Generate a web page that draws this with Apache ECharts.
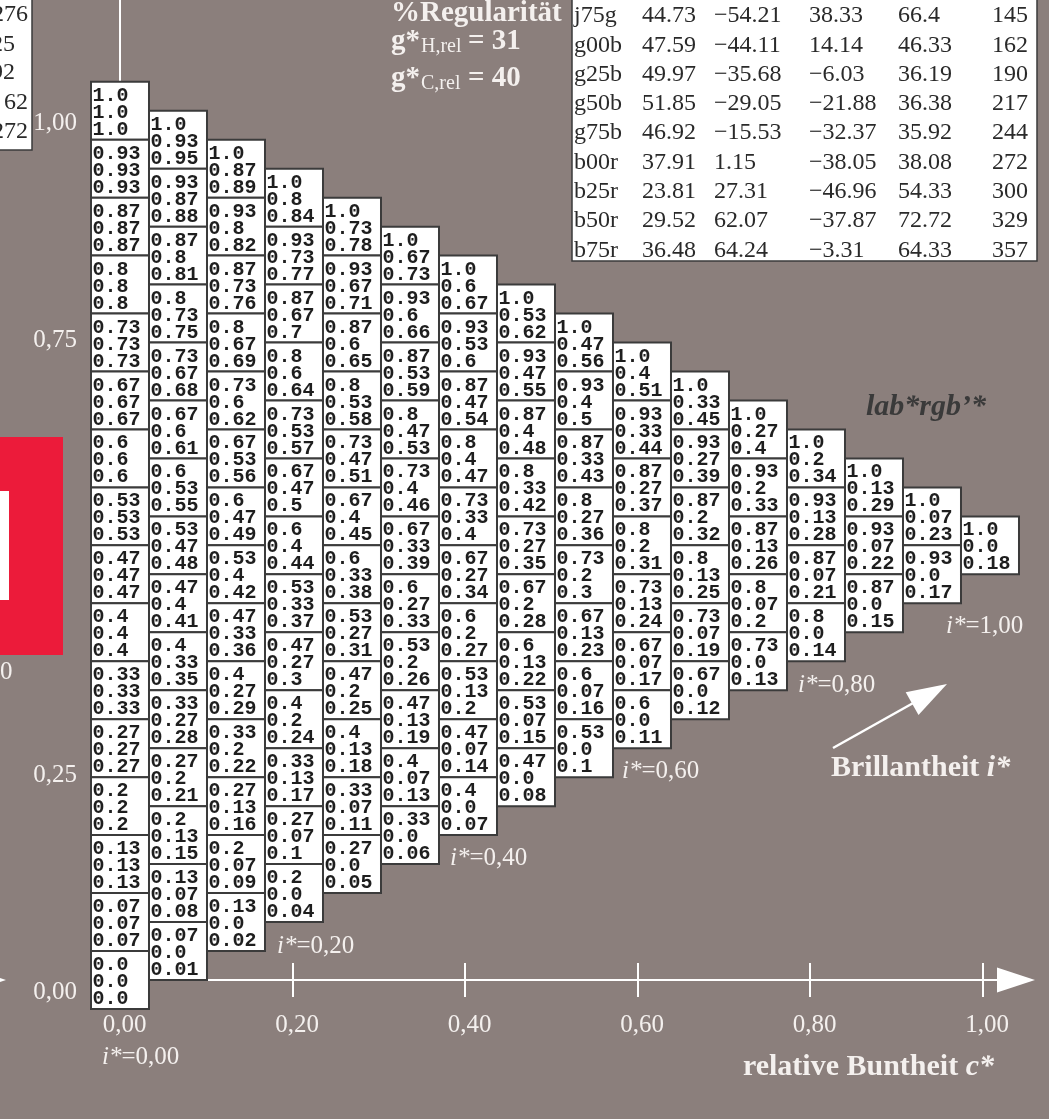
<!DOCTYPE html>
<html>
<head>
<meta charset="utf-8">
<script src="https://cdn.jsdelivr.net/npm/echarts@6/dist/echarts.min.js"></script>
<style>
  html, body { margin: 0; padding: 0; background: #8b7f7c; }
  #chart { width: 1049px; height: 1119px; }
</style>
</head>
<body>
<div id="chart"></div>
<script>
// level labels, in steps of 1/15 from 0 to 1
const steps = ["0.0", "0.07", "0.13", "0.2", "0.27", "0.33", "0.4", "0.47",
  "0.53", "0.6", "0.67", "0.73", "0.8", "0.87", "0.93", "1.0"];

// third line of each cell, per column (c* = k/15), top to bottom
const col00 = ["1.0", "0.93", "0.87", "0.8", "0.73", "0.67", "0.6", "0.53", "0.47", "0.4", "0.33", "0.27", "0.2", "0.13", "0.07", "0.0"];
const col01 = ["0.95", "0.88", "0.81", "0.75", "0.68", "0.61", "0.55", "0.48", "0.41", "0.35", "0.28", "0.21", "0.15", "0.08", "0.01"];
const col02 = ["0.89", "0.82", "0.76", "0.69", "0.62", "0.56", "0.49", "0.42", "0.36", "0.29", "0.22", "0.16", "0.09", "0.02"];
const col03 = ["0.84", "0.77", "0.7", "0.64", "0.57", "0.5", "0.44", "0.37", "0.3", "0.24", "0.17", "0.1", "0.04"];
const col04 = ["0.78", "0.71", "0.65", "0.58", "0.51", "0.45", "0.38", "0.31", "0.25", "0.18", "0.11", "0.05"];
const col05 = ["0.73", "0.66", "0.59", "0.53", "0.46", "0.39", "0.33", "0.26", "0.19", "0.13", "0.06"];
const col06 = ["0.67", "0.6", "0.54", "0.47", "0.4", "0.34", "0.27", "0.2", "0.14", "0.07"];
const col07 = ["0.62", "0.55", "0.48", "0.42", "0.35", "0.28", "0.22", "0.15", "0.08"];
const col08 = ["0.56", "0.5", "0.43", "0.36", "0.3", "0.23", "0.16", "0.1"];
const col09 = ["0.51", "0.44", "0.37", "0.31", "0.24", "0.17", "0.11"];
const col10 = ["0.45", "0.39", "0.32", "0.25", "0.19", "0.12"];
const col11 = ["0.4", "0.33", "0.26", "0.2", "0.13"];
const col12 = ["0.34", "0.28", "0.21", "0.14"];
const col13 = ["0.29", "0.22", "0.15"];
const col14 = ["0.23", "0.17"];
const col15 = ["0.18"];

// colour table (top right)
const tabName = ["j75g", "g00b", "g25b", "g50b", "g75b", "b00r", "b25r", "b50r", "b75r"];
const tabL = ["44.73", "47.59", "49.97", "51.85", "46.92", "37.91", "23.81", "29.52", "36.48"];
const tabA = ["\u221254.21", "\u221244.11", "\u221235.68", "\u221229.05", "\u221215.53", "1.15", "27.31", "62.07", "64.24"];
const tabB = ["38.33", "14.14", "\u22126.03", "\u221221.88", "\u221232.37", "\u221238.05", "\u221246.96", "\u221237.87", "\u22123.31"];
const tabC = ["66.4", "46.33", "36.19", "36.38", "35.92", "38.08", "54.33", "72.72", "64.33"];
const tabH = ["145", "162", "190", "217", "244", "272", "300", "329", "357"];

const xTicks = [0, 0.2, 0.4, 0.6, 0.8, 1.0];
const yTicks = [0, 0.25, 0.75, 1.0];

const columns = [col00, col01, col02, col03, col04, col05, col06, col07,
  col08, col09, col10, col11, col12, col13, col14, col15];

// each cell: [c*, centre level, line1, line2, line3]
const cells = [];
columns.forEach(function (col, k) {
  col.forEach(function (third, m) {
    const hi = 15 - m;
    const lo = 15 - m - k;
    cells.push([k / 15, (hi + lo) / 30, steps[hi], steps[lo], third]);
  });
});

const white = "#f4f0ee";
const serif = '"Liberation Serif", "Times New Roman", serif';
const fmt = function (v) { return v.toFixed(2).replace(".", ","); };

function txt(text, x, y, opt) {
  return {
    type: "text", z: 50,
    style: Object.assign({
      text: text, x: x, y: y, fill: white, fontFamily: serif, fontSize: 25,
      align: "left", verticalAlign: "middle"
    }, opt || {})
  };
}

const graphics = [];
// left fragment of neighbouring figure
graphics.push({ type: "rect", z: 40, shape: { x: -5, y: -5, width: 37, height: 155 },
  style: { fill: "#fff", stroke: "#3b3b3b", lineWidth: 1.5 } });
[["276", 28, 15], ["125", 15, 45], ["192", 15, 73], ["62", 28, 103], ["272", 28, 132]].forEach(function (r) {
  graphics.push(txt(r[0], r[1], r[2], { align: "right", fill: "#2a2a2a", fontSize: 24 }));
});
graphics.push({ type: "rect", z: 40, shape: { x: -2, y: 437, width: 65, height: 218 }, style: { fill: "#ec1b3a" } });
graphics.push({ type: "rect", z: 41, shape: { x: -2, y: 491, width: 11, height: 109 }, style: { fill: "#fff" } });
graphics.push(txt("0", 0, 672));
graphics.push({ type: "polygon", z: 40, shape: { points: [[-32, 967.5], [6, 980], [-32, 992.5]] }, style: { fill: "#fff" } });

// colour table
graphics.push({ type: "rect", z: 40, shape: { x: 572, y: -5, width: 465, height: 266 },
  style: { fill: "#fff", stroke: "#3b3b3b", lineWidth: 1.5 } });
tabName.forEach(function (n, i) {
  const y = 16 + i * 29.3;
  const o = { fill: "#2a2a2a", fontSize: 24 };
  graphics.push(txt(n, 574, y, o));
  graphics.push(txt(tabL[i], 642, y, o));
  graphics.push(txt(tabA[i], 714, y, o));
  graphics.push(txt(tabB[i], 809, y, o));
  graphics.push(txt(tabC[i], 898, y, o));
  graphics.push(txt(tabH[i], 1028, y, Object.assign({ align: "right" }, o)));
});

// headings
graphics.push(txt("%Regularit\u00e4t", 391, 14, { fontWeight: "bold", fontSize: 29 }));
graphics.push(txt("g*", 391, 42, { fontWeight: "bold", fontSize: 29 }));
graphics.push(txt("H,rel", 421, 47, { fontSize: 20 }));
graphics.push(txt("= 31", 468, 42, { fontWeight: "bold", fontSize: 29 }));
graphics.push(txt("g*", 391, 79, { fontWeight: "bold", fontSize: 29 }));
graphics.push(txt("C,rel", 421, 84, { fontSize: 20 }));
graphics.push(txt("= 40", 468, 79, { fontWeight: "bold", fontSize: 29 }));
graphics.push(txt("lab*rgb\u2019*", 866, 407, { fontWeight: "bold", fontStyle: "italic", fontSize: 30, fill: "#3a3a3a" }));

// Brillantheit arrow
graphics.push({ type: "line", z: 40, shape: { x1: 833, y1: 748, x2: 915, y2: 702 }, style: { stroke: "#fff", lineWidth: 2.5 } });
graphics.push({ type: "polygon", z: 40, shape: { points: [[947, 684], [905.7, 692.3], [918.5, 714.9]] }, style: { fill: "#fff" } });
graphics.push(txt("Brillantheit {bi|i*}", 831, 768, { fontWeight: "bold", fontSize: 30,
  rich: { bi: { fontWeight: "bold", fontStyle: "italic", fontSize: 30, fontFamily: serif, fill: white } } }));
graphics.push(txt("relative Buntheit {bi|c*}", 994, 1067, { fontWeight: "bold", fontSize: 30, align: "right",
  rich: { bi: { fontWeight: "bold", fontStyle: "italic", fontSize: 30, fontFamily: serif, fill: white } } }));

// i* labels
[["0,00", 102, 1057], ["0,20", 277, 946], ["0,40", 450, 858], ["0,60", 622, 771], ["0,80", 798, 685], ["1,00", 946, 626]].forEach(function (r) {
  graphics.push(txt("{it|i*}=" + r[0], r[1], r[2], {
    rich: { it: { fontStyle: "italic", fontSize: 25, fontFamily: serif, fill: white } } }));
});

const chart = echarts.init(document.getElementById("chart"));
chart.setOption({
  backgroundColor: "#8b7f7c",
  animation: false,
  grid: { left: 120, top: -10, width: 896, height: 990, outerBoundsMode: "none", containLabel: false },
  xAxis: [
    { type: "value", min: 0, max: 1.02989, show: false },
    {
      type: "value", min: 0, max: 1.03884, position: "bottom",
      axisLine: { show: true, onZero: false, symbol: ["none", "triangle"], symbolSize: [25, 38],
        lineStyle: { color: "#fff", width: 2 } },
      axisTick: { show: true, customValues: [0.2, 0.4, 0.6, 0.8, 1.0], length: 17, lineStyle: { color: "#fff", width: 2 } },
      axisLabel: { customValues: xTicks, formatter: fmt, color: white, fontFamily: serif, fontSize: 25,
        margin: 33, padding: [0, 0, 0, 9] },
      splitLine: { show: false }
    },
    {
      type: "value", min: 0, max: 1.03884, position: "bottom",
      axisLine: { show: false, onZero: false },
      axisTick: { show: true, inside: true, customValues: [0.2, 0.4, 0.6, 0.8, 1.0], length: 17, lineStyle: { color: "#fff", width: 2 } },
      axisLabel: { show: false },
      splitLine: { show: false }
    }
  ],
  yAxis: {
    type: "value", min: 0, max: 1.1389,
    axisLine: { show: true, lineStyle: { color: "#fff", width: 2 } },
    axisTick: { show: false },
    axisLabel: { customValues: yTicks, formatter: fmt, color: white, fontFamily: serif, fontSize: 25,
      margin: 43, verticalAlign: "top" },
    splitLine: { show: false }
  },
  series: [{
    type: "custom",
    xAxisIndex: 0,
    yAxisIndex: 0,
    data: cells.map(function (c) { return [c[0], c[1]]; }),
    encode: { x: 0, y: 1 },
    clip: false,
    silent: true,
    renderItem: function (params, api) {
      const cx = api.value(0);
      const cy = api.value(1);
      const a = api.coord([cx - 1 / 30, cy + 1 / 30]);
      const b = api.coord([cx + 1 / 30, cy - 1 / 30]);
      const d = cells[params.dataIndex];
      return {
        type: "group",
        children: [
          { type: "rect", shape: { x: a[0], y: a[1], width: b[0] - a[0], height: b[1] - a[1] },
            style: { fill: "#fff", stroke: "#3b3b3b", lineWidth: 2 } },
          { type: "text", style: { text: d[2] + "\n" + d[3] + "\n" + d[4], x: a[0] + 1.5, y: (a[1] + b[1]) / 2 + 2,
            fontFamily: '"Liberation Mono", "Courier New", monospace', fontWeight: "bold", fontSize: 20,
            lineHeight: 17, fill: "#1e1e1e", align: "left", verticalAlign: "middle" } }
        ]
      };
    }
  }],
  graphic: graphics
});
</script>
</body>
</html>
